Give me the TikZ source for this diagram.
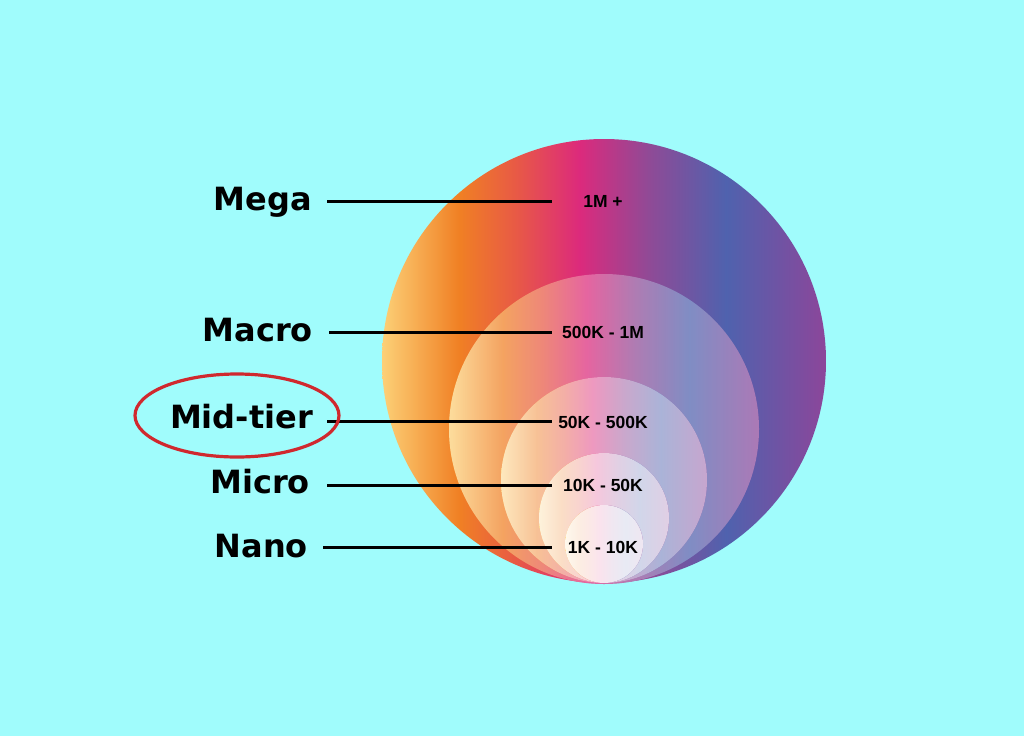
\documentclass[tikz,border=0pt]{standalone}
\usepackage{fontspec}
\setmainfont{DejaVu Sans}
\newfontfamily\valfont{Liberation Sans}
\usetikzlibrary{shapes.geometric}
\definecolor{bg}{HTML}{A0FCFC}
\definecolor{ringred}{HTML}{D0282E}
\definecolor{g0}{HTML}{FCD077}
\definecolor{g1}{HTML}{F08024}
\definecolor{g2}{HTML}{E85A45}
\definecolor{g3}{HTML}{DC2A7C}
\definecolor{g4}{HTML}{904A96}
\definecolor{g5}{HTML}{4F62AE}
\definecolor{g6}{HTML}{8C469A}
\pgfdeclarehorizontalshading{insta}{100bp}{color(0bp)=(g0); color(25bp)=(g0); color(33.65bp)=(g1); color(40bp)=(g2); color(47.2bp)=(g3); color(55bp)=(g4); color(63.75bp)=(g5); color(75bp)=(g6); color(100bp)=(g6)}
\tikzset{
  tier/.style={font=\fontsize{32}{38}\selectfont\bfseries, anchor=base east, inner sep=0pt},
  val/.style={font=\valfont\bfseries\fontsize{17.5}{20}\selectfont, inner sep=0pt},
  lead/.style={line width=3pt, black},
  disc/.style={shading=insta},
}
\begin{document}
\begin{tikzpicture}[x=1pt,y=-1pt]
\fill[bg] (0,0) rectangle (1024,736);
\useasboundingbox (0,0) rectangle (1024,736);
% nested circles
\shade[disc] (604,361) circle[radius=222pt];
\shade[disc] (604,429) circle[radius=155pt];
\fill[white,opacity=0.28] (604,429) circle[radius=155pt];
\shade[disc] (604,480) circle[radius=103pt];
\fill[white,opacity=0.52] (604,480) circle[radius=103pt];
\shade[disc] (604,518) circle[radius=65pt];
\fill[white,opacity=0.74] (604,518) circle[radius=65pt];
\shade[disc] (604,544) circle[radius=39pt];
\fill[white,opacity=0.87] (604,544) circle[radius=39pt];
% tier labels
\node[tier] (mega) at (312,210) {Mega};
\node[tier] (macro) at (313,341) {Macro};
\node[tier] (mid) at (313,428) {Mid-tier};
\node[tier] (micro) at (310,493) {Micro};
\node[tier] (nano) at (308,557) {Nano};
% value labels
\node[val] (v1) at (603,201) {1M +};
\node[val] (v2) at (603,332) {500K - 1M};
\node[val] (v3) at (603,422) {50K - 500K};
\node[val] (v4) at (603,485) {10K - 50K};
\node[val] (v5) at (603,547) {1K - 10K};
% leader lines
\coordinate (a1) at (327,201); \coordinate (b1) at (552,201);
\coordinate (a2) at (329,332); \coordinate (b2) at (552,332);
\coordinate (a3) at (327,421); \coordinate (b3) at (552,421);
\coordinate (a4) at (327,485); \coordinate (b4) at (552,485);
\coordinate (a5) at (323,547); \coordinate (b5) at (552,547);
\draw[lead] (a1) -- (b1);
\draw[lead] (a2) -- (b2);
\draw[lead] (a3) -- (b3);
\draw[lead] (a4) -- (b4);
\draw[lead] (a5) -- (b5);
% highlight ring
\node[ellipse, draw=ringred, line width=3.2pt, minimum width=204pt, minimum height=83pt, inner sep=0pt] (ring) at (237,415.5) {};
\end{tikzpicture}
\end{document}
